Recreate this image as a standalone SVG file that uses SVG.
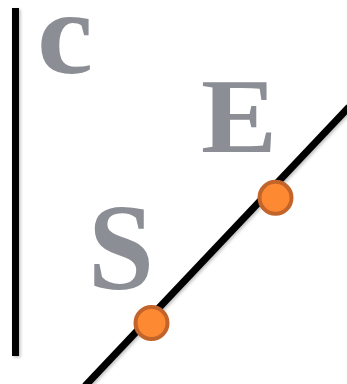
<svg xmlns="http://www.w3.org/2000/svg" width="347" height="384" viewBox="0 0 347 384">
<defs>
<style>
.ln{stroke:#000;stroke-width:7;fill:none;filter:url(#sh)}
.lt{font-family:"Liberation Serif","Times New Roman",serif;font-weight:bold;fill:#8b8e95}
.pt{fill:#fd8a33;stroke:#c3642a;stroke-width:4}
</style>
<filter id="sh" filterUnits="userSpaceOnUse" x="0" y="0" width="347" height="384">
<feDropShadow dx="1.5" dy="1.5" stdDeviation="1.5" flood-color="#000" flood-opacity="0.25"/>
</filter>
</defs>
<g id="connectors">
<line class="ln" x1="15.5" y1="8" x2="15.5" y2="356"/>
<line class="ln" x1="85" y1="386" x2="349" y2="107"/>
</g>
<g id="label-c"><text class="lt" x="37" y="73" font-size="118" textLength="56" lengthAdjust="spacingAndGlyphs">c</text></g>
<g id="label-E"><text class="lt" x="201" y="151.7" font-size="106" textLength="76" lengthAdjust="spacingAndGlyphs">E</text></g>
<g id="label-S"><text class="lt" x="88" y="289" font-size="123" textLength="66" lengthAdjust="spacingAndGlyphs">S</text></g>
<g id="point-1"><circle class="pt" cx="275.5" cy="197.8" r="16"/></g>
<g id="point-2"><circle class="pt" cx="151.5" cy="323" r="16"/></g>
</svg>
